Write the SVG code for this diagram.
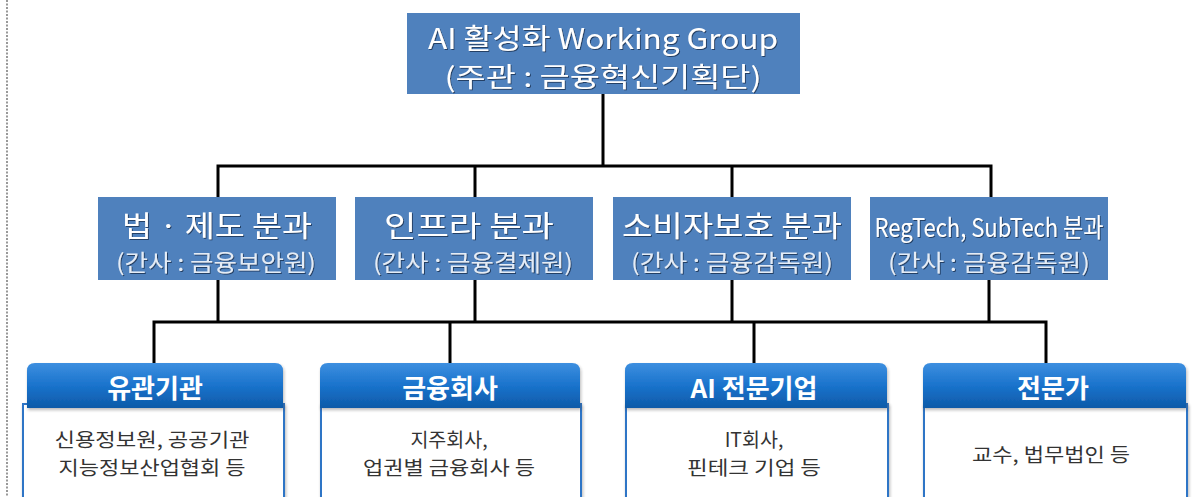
<svg xmlns="http://www.w3.org/2000/svg" width="1192" height="497" viewBox="0 0 1192 497">
<defs>
<linearGradient id="hg" x1="0" y1="0" x2="0" y2="1">
<stop offset="0" stop-color="#3d8fe0"/>
<stop offset="0.5" stop-color="#1a73cc"/>
<stop offset="1" stop-color="#0d5aa8"/>
</linearGradient>
<filter id="ts" x="-10%" y="-20%" width="120%" height="140%">
<feDropShadow dx="1" dy="1" stdDeviation="0.6" flood-color="#1d3050" flood-opacity="0.8"/>
</filter>
<filter id="bs" x="-5%" y="-10%" width="110%" height="130%">
<feDropShadow dx="1" dy="2" stdDeviation="1.5" flood-color="#333" flood-opacity="0.35"/>
</filter>
</defs>
<style>
.t{font-family:"Noto Sans CJK KR","Noto Sans",sans-serif;text-anchor:middle}
.box{fill:#4f81bd}
.w1{fill:#ffffff}
.w2{fill:#e4ecf6}
.l1{font-size:29px}
.l2{font-size:23px}
.hdr{fill:url(#hg)}
.body{fill:#ffffff;stroke:#2f74c6;stroke-width:2}
.ht{font-weight:bold;font-size:26px;fill:#ffffff}
.bt{font-size:19.5px;fill:#333333}
.ln{fill:none;stroke:#000000;stroke-width:3;stroke-linejoin:miter}
</style>
<rect width="1192" height="497" fill="#ffffff"/>
<line x1="7" y1="0" x2="7" y2="497" stroke="#555" stroke-width="1.2" stroke-dasharray="2,1.5"/>

<g id="connectors">
<path class="ln" d="M603,94 V166 M218,197 V166 H991 V197 M475,166 V197 M732,166 V197"/>
<path class="ln" d="M218,280 V322 M475,280 V322 M732,280 V322 M989,280 V322 M154,364 V322 H1046 V364 M450,322 V364 M754,322 V364"/>
</g>

<g id="top">
<rect class="box" x="407" y="13" width="393" height="81"/>
<text class="t w1" x="603" y="49" font-size="28" textLength="350" lengthAdjust="spacingAndGlyphs" filter="url(#ts)">AI 활성화 Working Group</text>
<text class="t w1" x="603" y="87" font-size="27" textLength="317" lengthAdjust="spacingAndGlyphs" filter="url(#ts)">(주관 : 금융혁신기획단)</text>
</g>

<g id="law">
<rect class="box" x="98" y="197" width="238" height="83"/>
<text class="t w1 l1" x="217" y="237" textLength="190" lengthAdjust="spacingAndGlyphs" filter="url(#ts)">법 · 제도 분과</text>
<text class="t w2 l2" x="216" y="271" textLength="200" lengthAdjust="spacingAndGlyphs" filter="url(#ts)">(간사 : 금융보안원)</text>
</g>

<g id="infra">
<rect class="box" x="355" y="197" width="238" height="83"/>
<text class="t w1 l1" x="469" y="237" textLength="170" lengthAdjust="spacingAndGlyphs" filter="url(#ts)">인프라 분과</text>
<text class="t w2 l2" x="473" y="271" textLength="200" lengthAdjust="spacingAndGlyphs" filter="url(#ts)">(간사 : 금융결제원)</text>
</g>

<g id="consumer">
<rect class="box" x="613" y="197" width="238" height="83"/>
<text class="t w1 l1" x="732" y="237" textLength="220" lengthAdjust="spacingAndGlyphs" filter="url(#ts)">소비자보호 분과</text>
<text class="t w2 l2" x="732" y="271" textLength="202" lengthAdjust="spacingAndGlyphs" filter="url(#ts)">(간사 : 금융감독원)</text>
</g>

<g id="regtech">
<rect class="box" x="870" y="197" width="238" height="83"/>
<text class="t w1" x="989" y="237" font-size="26" textLength="229" lengthAdjust="spacingAndGlyphs" filter="url(#ts)">RegTech, SubTech 분과</text>
<text class="t w2 l2" x="989" y="271" textLength="202" lengthAdjust="spacingAndGlyphs" filter="url(#ts)">(간사 : 금융감독원)</text>
</g>

<g id="related">
<rect class="body" x="23" y="404" width="261" height="100" filter="url(#bs)"/>
<path class="hdr" d="M27,408 V371 Q27,363 35,363 H275 Q283,363 283,371 V408 Z" filter="url(#bs)"/>
<text class="t ht" x="155" y="398">유관기관</text>
<text class="t bt" x="152" y="447" textLength="195" lengthAdjust="spacingAndGlyphs">신용정보원, 공공기관</text>
<text class="t bt" x="152" y="475" textLength="187" lengthAdjust="spacingAndGlyphs">지능정보산업협회 등</text>
</g>

<g id="finance">
<rect class="body" x="321" y="404" width="260" height="100" filter="url(#bs)"/>
<path class="hdr" d="M320,408 V371 Q320,363 328,363 H572 Q580,363 580,371 V408 Z" filter="url(#bs)"/>
<text class="t ht" x="450" y="398">금융회사</text>
<text class="t bt" x="449" y="447">지주회사,</text>
<text class="t bt" x="449" y="475" textLength="172" lengthAdjust="spacingAndGlyphs">업권별 금융회사 등</text>
</g>

<g id="ai">
<rect class="body" x="626" y="404" width="262" height="100" filter="url(#bs)"/>
<path class="hdr" d="M625,408 V371 Q625,363 633,363 H879 Q887,363 887,371 V408 Z" filter="url(#bs)"/>
<text class="t ht" x="754" y="398">AI 전문기업</text>
<text class="t bt" x="754" y="447">IT회사,</text>
<text class="t bt" x="754" y="475" textLength="134" lengthAdjust="spacingAndGlyphs">핀테크 기업 등</text>
</g>

<g id="expert">
<rect class="body" x="924" y="404" width="263" height="100" filter="url(#bs)"/>
<path class="hdr" d="M923,408 V371 Q923,363 931,363 H1178 Q1186,363 1186,371 V408 Z" filter="url(#bs)"/>
<text class="t ht" x="1053" y="398">전문가</text>
<text class="t bt" x="1051" y="462" textLength="158" lengthAdjust="spacingAndGlyphs">교수, 법무법인 등</text>
</g>
</svg>
